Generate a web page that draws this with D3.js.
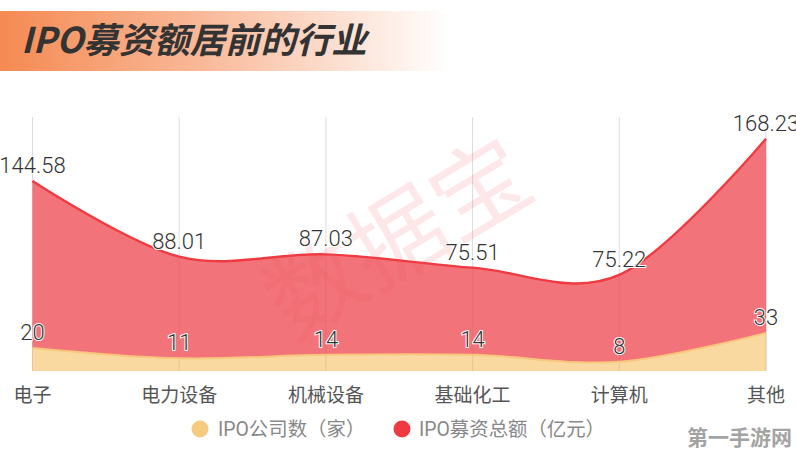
<!DOCTYPE html>
<html><head><meta charset="utf-8">
<script src="https://cdn.jsdelivr.net/npm/d3@7"></script>
<style>html,body{margin:0;padding:0;background:#fff;overflow:hidden}svg{display:block}</style>
</head><body><svg id="c" width="796" height="456"></svg>
<script>
const categories=["电子","电力设备","机械设备","基础化工","计算机","其他"];
const companyCount=[20,11,14,14,8,33];
const raisedTotal=[144.58,88.01,87.03,75.51,75.22,168.23];
const legendLabels=["IPO公司数（家）","IPO募资总额（亿元）"];
const titleText="IPO募资额居前的行业";
const F="Roboto,'Noto Sans CJK SC','Noto Sans',sans-serif";
const CJK="'Noto Sans CJK SC','Noto Sans',sans-serif";
const svg=d3.select("#c");
const defs=svg.append("defs");
const g=defs.append("linearGradient").attr("id","tg");
g.append("stop").attr("offset","0").attr("stop-color","#f58a52");
g.append("stop").attr("offset","0.45").attr("stop-color","#f9b999");
g.append("stop").attr("offset","1").attr("stop-color","#fff");
svg.append("rect").attr("x",0).attr("y",11).attr("width",450).attr("height",60).attr("fill","url(#tg)");
svg.append("text").text(titleText).attr("x",21).attr("y",53).attr("font-family",CJK).attr("font-size",35.4)
  .attr("font-weight",700).attr("font-style","italic").attr("fill","#333");

const x=d3.scalePoint().domain(categories).range([32.5,766]);
const y=d3.scaleLinear().domain([0,220]).range([371,117]);
const rows=categories.map((c,i)=>({c,count:companyCount[i],raised:raisedTotal[i]}));
const stack=d3.stack().keys(["count","raised"])(rows);
const curve=d3.curveCatmullRom.alpha(0);

svg.append("g").selectAll("line").data(categories).join("line")
 .attr("x1",d=>x(d)).attr("x2",d=>x(d)).attr("y1",y(220)).attr("y2",y(0))
 .attr("stroke","#dcdcdc").attr("stroke-width",1);

const area=d3.area().x(d=>x(d.data.c)).y0(d=>y(d[0])).y1(d=>y(d[1])).curve(curve);
const line=d3.line().x(d=>x(d.data.c)).y(d=>y(d[1])).curve(curve);
const fills=["#fad9a0","#f3737a"],strokes=["#f8c67c","#ee3a40"];
stack.forEach((s,i)=>{
 svg.append("path").datum(s).attr("d",area).attr("fill",fills[i]);
});
svg.append("g").selectAll("line").data(stack[1]).join("line")
 .attr("x1",d=>x(d.data.c)).attr("x2",d=>x(d.data.c)).attr("y1",d=>y(d[1])).attr("y2",y(0))
 .attr("stroke","#c85a60").attr("stroke-opacity",.2);
stack.forEach((s,i)=>{
 svg.append("path").datum(s).attr("d",line).attr("fill","none").attr("stroke",strokes[i]).attr("stroke-width",i?2.4:2);
});
svg.append("text").text("数据宝").attr("transform","translate(394,232) rotate(-31)")
 .attr("text-anchor","middle").attr("dominant-baseline","central").attr("font-family",CJK)
 .attr("font-size",96).attr("fill","#f0525a").attr("fill-opacity",.14);

function labels(s,fmt,off){
 svg.append("g").selectAll("text").data(s).join("text")
  .text(d=>fmt(d)).attr("x",d=>x(d.data.c)).attr("y",d=>y(d[1])-off)
  .attr("text-anchor","middle").attr("font-family",F).attr("font-size",22).attr("font-weight",300)
  .attr("fill","#333").attr("stroke","#fff").attr("stroke-width",2).attr("paint-order","stroke");
}
labels(stack[1],d=>d3.format(".2f")(d.data.raised),8);
labels(stack[0],d=>d.data.count,8);

svg.append("g").selectAll("text").data(categories).join("text").text(d=>d)
 .attr("x",d=>x(d)).attr("y",402).attr("text-anchor","middle").attr("font-family",CJK)
 .attr("font-size",19).attr("fill","#555");

const lx=[200,402],tx=[218,419],lc=["#f6cb80","#ee3a40"];
legendLabels.forEach((t,i)=>{
 svg.append("circle").attr("cx",lx[i]).attr("cy",429).attr("r",8.5).attr("fill",lc[i]);
 svg.append("text").text(t).attr("x",tx[i]).attr("y",435.5).attr("font-family",F).attr("font-size",19.4).attr("fill","#888");
});
svg.append("text").text("第一手游网").attr("x",687).attr("y",445).attr("font-family",CJK).attr("font-size",21)
 .attr("font-weight",700).attr("fill","#a3a3a3").attr("stroke","#fff").attr("stroke-width",3).attr("paint-order","stroke");
</script></body></html>
